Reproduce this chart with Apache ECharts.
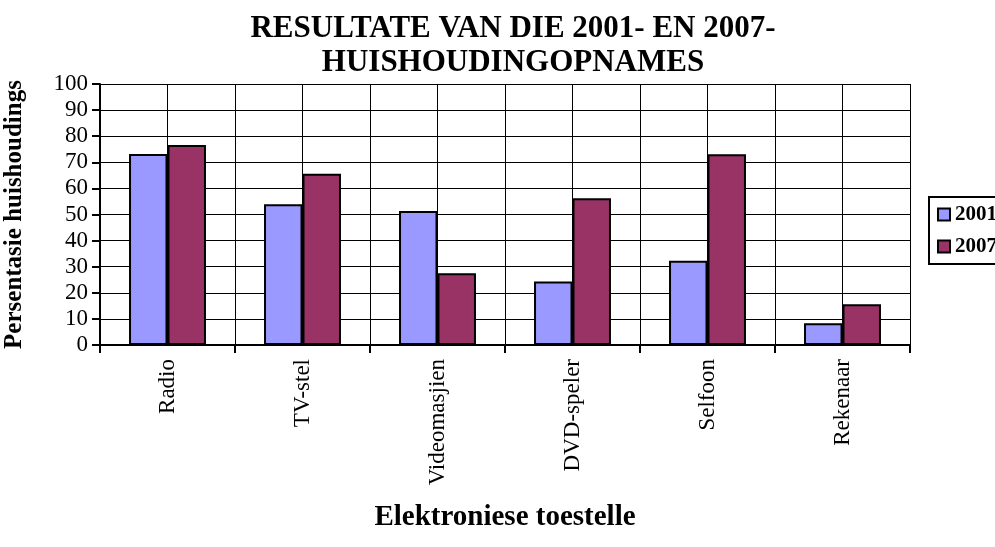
<!DOCTYPE html>
<html>
<head>
<meta charset="utf-8">
<script src="https://cdn.jsdelivr.net/npm/echarts@6/dist/echarts.min.js"></script>
<style>
  html, body { margin: 0; padding: 0; background: #fff; }
  #chart { width: 995px; height: 547px; }
</style>
</head>
<body>
<div id="chart"></div>
<script>
const categories = ['Radio', 'TV-stel', 'Videomasjien', 'DVD-speler', 'Selfoon', 'Rekenaar'];
const values2001 = [73.2, 53.9, 51.3, 24.3, 32.3, 8.3];
const values2007 = [76.6, 65.6, 27.5, 56.2, 73.1, 15.6];
const seriesNames = ['2001', '2007'];

const serif = 'Liberation Serif, Times New Roman, serif';
const chart = echarts.init(document.getElementById('chart'));

chart.setOption({
  animation: false,
  backgroundColor: '#fff',
  title: {
    text: 'RESULTATE VAN DIE 2001- EN 2007-\nHUISHOUDINGOPNAMES',
    left: 508,
    textAlign: 'center',
    top: 7,
    textStyle: { fontFamily: serif, fontWeight: 'bold', fontSize: 31, lineHeight: 34, color: '#000' }
  },
  legend: {
    data: seriesNames,
    orient: 'vertical',
    left: 929,
    top: 197,
    itemWidth: 12,
    itemHeight: 12,
    itemGap: 11,
    padding: [7, 12, 7, 8],
    borderColor: '#000',
    borderWidth: 2,
    icon: 'rect',
    textStyle: { fontFamily: serif, fontWeight: 'bold', fontSize: 21, color: '#000' }
  },
  grid: { left: 100, right: 85, top: 84, bottom: 202, outerBoundsMode: 'none' },
  xAxis: [
    {
      type: 'category',
      data: categories,
      name: 'Elektroniese toestelle',
      nameLocation: 'middle',
      nameGap: 158,
      nameTextStyle: { fontFamily: serif, fontWeight: 'bold', fontSize: 29, color: '#000' },
      axisLine: { lineStyle: { color: '#000', width: 2 } },
      axisTick: { show: true, length: 8, lineStyle: { color: '#000', width: 2 } },
      axisLabel: { rotate: 90, margin: 14, fontFamily: serif, fontSize: 23, color: '#000' },
      splitLine: { show: false }
    },
    {
      type: 'value',
      min: 0,
      max: 12,
      interval: 1,
      position: 'top',
      axisLine: { show: false },
      axisTick: { show: false },
      axisLabel: { show: false },
      splitLine: { show: true, lineStyle: { color: '#000', width: 1 } }
    }
  ],
  yAxis: {
    type: 'value',
    min: 0,
    max: 100,
    interval: 10,
    name: 'Persentasie huishoudings',
    nameLocation: 'middle',
    nameGap: 73,
    nameTextStyle: { fontFamily: serif, fontWeight: 'bold', fontSize: 25, color: '#000' },
    axisLine: { show: true, lineStyle: { color: '#000', width: 2 } },
    axisTick: { show: true, length: 8, lineStyle: { color: '#000', width: 2 } },
    axisLabel: { margin: 12, fontFamily: serif, fontSize: 23, color: '#000' },
    splitLine: { show: true, lineStyle: { color: '#000', width: 1 } }
  },
  series: [
    {
      name: seriesNames[0],
      type: 'bar',
      xAxisIndex: 0,
      data: values2001,
      barGap: '0%',
      barCategoryGap: '43%',
      itemStyle: { color: '#9999FF', borderColor: '#000', borderWidth: 2 }
    },
    {
      name: seriesNames[1],
      type: 'bar',
      xAxisIndex: 0,
      data: values2007,
      barGap: '0%',
      barCategoryGap: '43%',
      itemStyle: { color: '#993366', borderColor: '#000', borderWidth: 2 }
    }
  ]
});
</script>
</body>
</html>
